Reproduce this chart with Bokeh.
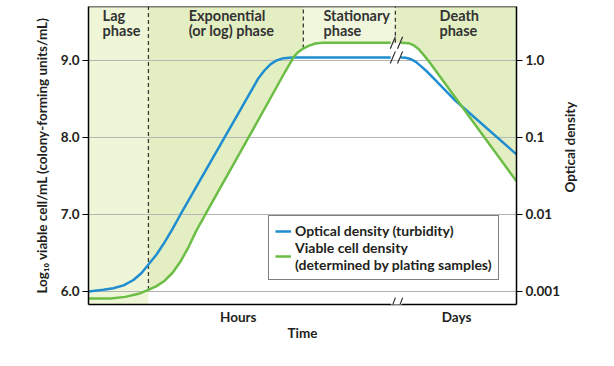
import math
import numpy as np
from bokeh.plotting import figure
from bokeh.layouts import row
from bokeh.models import (Range1d, LinearAxis, FixedTicker, PrintfTickFormatter, Legend,
                          LegendItem, Span, BoxAnnotation, Arrow)
from bokeh.core.properties import value
from bokeh.embed import file_html
from bokeh.resources import INLINE

nan = float("nan")

# ---------------- data ----------------
# time in arbitrary units across the plot (hours before the break, days after)
TIME_OD = [0, 3.5, 5.8, 8.2, 10.5, 12.4, 14.0, 15.9, 17.8, 19.6, 21.5, 31.8, 39.7, 41.1, 42.5,
           43.9, 45.6, 47.7, 70.6, nan, 72.9, 74.1, 75.2, 76.4, 77.6, 79.2, 80.6, 85.7, 100]
OPTICAL_DENSITY = [0.00100, 0.00105, 0.00110, 0.00120, 0.00141, 0.00174, 0.00224, 0.00302,
                   0.00437, 0.00646, 0.0100, 0.100, 0.589, 0.741, 0.891, 1.000, 1.072, 1.096,
                   1.096, nan, 1.096, 1.084, 1.047, 0.966, 0.851, 0.708, 0.589, 0.302, 0.0603]

TIME_VC = [0, 5.1, 8.6, 11.7, 14.0, 15.9, 17.8, 19.6, 21.5, 23.4, 25.2, 27.3, 37.4, 46.0,
           47.9, 48.8, 50.0, 51.4, 53.0, 54.7, 70.6, nan, 72.9, 74.8, 75.9, 77.1, 78.5, 79.9,
           85.7, 100]
VIABLE_LOG10 = [5.91, 5.91, 5.93, 5.97, 6.02, 6.07, 6.14, 6.24, 6.39, 6.58, 6.79, 7.00, 8.00,
                8.86, 9.04, 9.10, 9.15, 9.19, 9.22, 9.23, 9.23, nan, 9.23, 9.225, 9.20, 9.15,
                9.06, 8.96, 8.52, 7.43]

PHASES = ["Lag\nphase", "Exponential\n(or log) phase", "Stationary\nphase", "Death\nphase"]
PHASE_BOUNDS = [0, 14.0, 50.2, 71.7, 100]
BREAK_T = 71.95

LOG_TICKS = [6, 7, 8, 9]
OD_TICKS = [0.001, 0.01, 0.1, 1.0]
OD_TICK_LABELS = ["0.001", "0.01", "0.1", "1.0"]
OD_AT_LOG10_9 = 1.0            # calibration: OD 1.0 <-> 10^9 cells/mL
TIME_SCALE_T = [35, 86]
TIME_SCALE_LABELS = ["Hours", "Days"]
OD_TITLE = "Optical density"

# ---------------- layout / style ----------------
YMIN, YMAX = 5.831, 9.701
XMIN, XMAX = 0, 100
BLUE = "#1f8dd0"
GREEN = "#6cbd45"
C_LAG = "#eff6d8"
C_EXP = "#e3efc3"
C_STAT = "#f1f7dd"
TXT = "#231f20"
FONT = "Lato"
FS = "13.5px"
W_MAIN, W_SIDE, H = 563, 51, 366

p = figure(width=W_MAIN, height=H, x_range=Range1d(XMIN, XMAX), y_range=Range1d(YMIN, YMAX),
           output_backend="svg", toolbar_location=None,
           min_border_left=88, min_border_right=W_MAIN - 516, min_border_top=6,
           min_border_bottom=62)
p.grid.visible = False
p.outline_line_color = None
p.background_fill_color = "white"
p.border_fill_color = "white"

od_offset = 9 - math.log10(OD_AT_LOG10_9)
p.extra_y_ranges = {"od": Range1d(YMIN - od_offset, YMAX - od_offset)}

# ---------------- shading ----------------
gx = np.array([t for t in TIME_VC if not math.isnan(t)])
gy = np.array([v for v in VIABLE_LOG10 if not math.isnan(v)])


def above_green(x0, x1):
    xs = [x0] + [t for t in gx if x0 < t < x1] + [x1]
    return xs, list(np.interp(xs, gx, gy))


p.quad(left=PHASE_BOUNDS[0], right=PHASE_BOUNDS[1], bottom=YMIN, top=YMAX,
       fill_color=C_LAG, line_color=None)
for i, col in [(1, C_EXP), (2, C_STAT), (3, C_EXP)]:
    xs, ys = above_green(PHASE_BOUNDS[i], PHASE_BOUNDS[i + 1])
    p.varea(x=xs, y1=ys, y2=[YMAX] * len(xs), fill_color=col)

# grid lines
p.segment(x0=XMIN, x1=XMAX, y0=LOG_TICKS, y1=LOG_TICKS, line_color="#b4b4b4", line_width=1)

# phase boundaries (dashed)
bx = PHASE_BOUNDS[1:4]
p.segment(x0=bx, x1=bx, y0=list(np.interp(bx, gx, gy)), y1=YMAX,
          line_color="#3a3a3a", line_width=1.3, line_dash="4 3")

# phase labels
PHASE_LABEL_X = [3.3, 23.4, 54.9, 82.0]
p.text(x=PHASE_LABEL_X, y=9.69, text=PHASES, text_font=value(FONT), text_font_style="bold",
       text_font_size="14.5px", text_color="#333333", text_baseline="top", text_align="left",
       text_line_height=0.87)

# ---------------- curves ----------------
od_log = [math.log10(v) if not math.isnan(v) else nan for v in OPTICAL_DENSITY]
r_od = p.line(TIME_OD, od_log, y_range_name="od", line_color=BLUE, line_width=2.5)
r_vc = p.line(TIME_VC, VIABLE_LOG10, line_color=GREEN, line_width=2.5)

# break marks on the curves
g_break = float(np.interp(BREAK_T, gx, gy))
b_break = math.log10(OPTICAL_DENSITY[TIME_OD.index(70.6)]) + od_offset
sx = [BREAK_T - 0.85, BREAK_T + 0.85]
for yb in (g_break, b_break):
    p.segment(x0=[s - 0.6 for s in sx], x1=[s + 0.6 for s in sx], y0=yb - 0.078, y1=yb + 0.078,
              line_color="#222222", line_width=1.1)

# ---------------- axes ----------------
la = p.yaxis[0]
la.ticker = FixedTicker(ticks=LOG_TICKS)
la.formatter = PrintfTickFormatter(format="%.1f")
la.axis_label = "Log\u2081\u2080 viable cell/mL (colony-forming units/mL)"

ra = LinearAxis(y_range_name="od",
                ticker=FixedTicker(ticks=[math.log10(v) for v in OD_TICKS]),
                major_label_overrides={math.log10(v): s for v, s in zip(OD_TICKS, OD_TICK_LABELS)})
p.add_layout(ra, "right")

ba = p.xaxis[0]
ba.ticker = FixedTicker(ticks=TIME_SCALE_T)
ba.major_label_overrides = dict(zip(TIME_SCALE_T, TIME_SCALE_LABELS))
ba.axis_label = "Time"
ba.major_tick_out = 0
ba.major_tick_in = 0
ba.major_label_standoff = 4
ba.axis_label_standoff = -3

for ax in (la, ra, ba):
    ax.axis_line_color = "black"
    ax.axis_line_width = 1.5
    ax.minor_tick_line_color = None
    ax.major_tick_line_color = "black"
    ax.major_tick_line_width = 1.2
    ax.major_label_text_font = FONT
    ax.major_label_text_font_style = "bold"
    ax.major_label_text_font_size = FS
    ax.major_label_text_color = TXT
    ax.axis_label_text_font = FONT
    ax.axis_label_text_font_style = "bold"
    ax.axis_label_text_font_size = FS
    ax.axis_label_text_color = TXT
for ax in (la, ra):
    ax.major_tick_out = 6
    ax.major_tick_in = 0
    ax.major_label_standoff = 3
la.axis_label_standoff = 8

# top border
p.add_layout(Span(location=YMAX, dimension="width", line_color="black", line_width=1.5))

# break on the time axis
p.add_layout(BoxAnnotation(left=BREAK_T - 1.3, right=BREAK_T + 1.3, bottom=YMIN - 0.05,
                           top=YMIN + 0.03, fill_color="white", fill_alpha=1, line_color=None))
for s in sx:
    p.add_layout(Arrow(end=None, x_start=s - 0.6, x_end=s + 0.6, y_start=YMIN - 0.09,
                       y_end=YMIN + 0.09, line_color="#222222", line_width=1.1))

# ---------------- legend ----------------
legend = Legend(items=[LegendItem(label="Optical density (turbidity)", renderers=[r_od]),
                       LegendItem(label="Viable cell density\n(determined by plating samples)",
                                  renderers=[r_vc])],
                location=(180, 24), orientation="vertical",
                border_line_color="black", border_line_width=1,
                background_fill_color="white", background_fill_alpha=1,
                label_text_font=FONT, label_text_font_style="bold", label_text_font_size="14px",
                label_text_color=TXT, label_text_line_height=0.9,
                glyph_width=16, glyph_height=14, label_height=14, label_standoff=4,
                padding=6, spacing=0, margin=0)
p.add_layout(legend)

# ---------------- right-hand axis title (reads bottom-to-top) ----------------
# narrow companion figure sharing the same vertical scale as the main plot
side = figure(width=W_SIDE, height=H, x_range=Range1d(0, W_SIDE), y_range=p.y_range,
              output_backend="svg", toolbar_location=None, x_axis_type=None, y_axis_type=None,
              min_border_left=0, min_border_right=0, min_border_top=6, min_border_bottom=62)
side.grid.visible = False
side.outline_line_color = None
side.background_fill_color = "white"
side.border_fill_color = "white"
side.text(x=[6], y=[(YMIN + YMAX) / 2 + 0.11], text=[OD_TITLE], angle=math.pi / 2,
          text_font=value(FONT), text_font_style="bold", text_font_size=FS, text_color=TXT,
          text_align="center", text_baseline="middle")

layout = row(p, side, spacing=0)
open("out.html", "w").write(file_html(layout, INLINE))
